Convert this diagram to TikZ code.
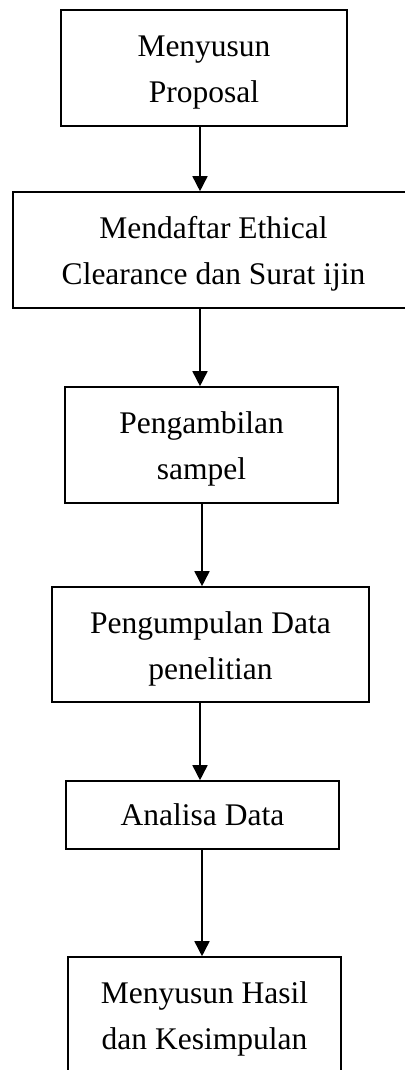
\documentclass[tikz,border=0pt]{standalone}
\usepackage{fontspec}
\setmainfont{Liberation Serif}
\usetikzlibrary{arrows.meta}
\newcommand\firstlinestrut{\rule{0pt}{30pt}}
\begin{document}
\begin{tikzpicture}[x=1pt,y=-1pt,
  stepbox/.style={draw=black,line width=1.6pt,fill=white,inner sep=0pt,align=center,
    font=\fontsize{31.5}{46}\selectfont,text=black},
  flow/.style={line width=1.6pt,-{Triangle[width=15pt,length=15pt]}}]
\useasboundingbox (0,0) rectangle (404,1070);
\node[stepbox,minimum width=286pt,minimum height=116pt] (b1) at (204,68) {\firstlinestrut Menyusun\\Proposal};
\node[stepbox,minimum width=401pt,minimum height=116pt] (b2) at (213.5,250) {\firstlinestrut Mendaftar Ethical\\Clearance dan Surat ijin};
\node[stepbox,minimum width=273pt,minimum height=116pt] (b3) at (201.5,445) {\firstlinestrut Pengambilan\\sampel};
\node[stepbox,minimum width=317pt,minimum height=115pt] (b4) at (210.5,644.5) {\firstlinestrut Pengumpulan Data\\penelitian};
\node[stepbox,minimum width=273pt,minimum height=68pt] (b5) at (202.5,815) {Analisa Data};
\node[stepbox,minimum width=273pt,minimum height=116pt] (b6) at (204.5,1015) {\firstlinestrut Menyusun Hasil\\dan Kesimpulan};
\draw[flow] (b1.south -| 200,0) -- (b2.north -| 200,0);
\draw[flow] (b2.south -| 200,0) -- (b3.north -| 200,0);
\draw[flow] (b3.south -| 202,0) -- (b4.north -| 202,0);
\draw[flow] (b4.south -| 200,0) -- (b5.north -| 200,0);
\draw[flow] (b5.south -| 202,0) -- (b6.north -| 202,0);
\end{tikzpicture}
\end{document}
